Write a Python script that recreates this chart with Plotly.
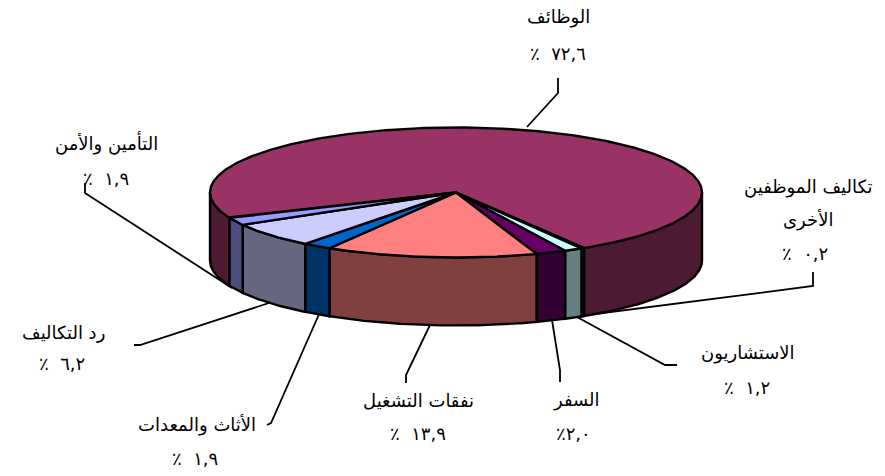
"""
رسم دائري ثلاثي الأبعاد لتوزيع المصروفات
"""
import numpy as np
import plotly.graph_objects as go

# البيانات
LABELS = ["الوظائف", "تكاليف الموظفين الأخرى", "الاستشاريون", "السفر",
          "نفقات التشغيل", "الأثاث والمعدات", "رد التكاليف", "التأمين والأمن"]
VALUES = [72.6, 0.2, 1.2, 2.0, 13.9, 1.9, 6.2, 1.9]
VALUE_TEXT = ["٪\u00a0\u00a0٧٢,٦", "٪\u00a0\u00a0٠,٢", "٪\u00a0\u00a0١,٢", "٪٢,٠",
              "٪\u00a0\u00a0١٣,٩", "٪\u00a0\u00a0١,٩", "٪\u00a0\u00a0٦,٢", "٪\u00a0\u00a0١,٩"]
TOP_COLORS = ["#993366", "#ffffcc", "#ccffff", "#660066", "#ff8080", "#0066cc", "#ccccff", "#9999ff"]
SIDE_COLORS = ["#4d1a33", "#808066", "#668080", "#330033", "#804040", "#003366", "#666680", "#4d4d80"]

# هندسة الرسم
CX, CY = 456, 192.5
RX, RY = 246, 65
DEPTH = 68
START_ANGLE = -67

# مواضع النصوص: (x, y, النص)
TEXT_POS = [
    (558, 17, LABELS[0]), (558, 53, VALUE_TEXT[0]),
    (808, 187, "تكاليف الموظفين"), (808, 220, "الأخرى"), (805, 253, VALUE_TEXT[1]),
    (748, 353, LABELS[2]), (747, 387, VALUE_TEXT[2]),
    (576, 400, LABELS[3]), (573, 433, VALUE_TEXT[3]),
    (418, 400, LABELS[4]), (418, 433, VALUE_TEXT[4]),
    (197, 425, LABELS[5]), (195, 458, VALUE_TEXT[5]),
    (63, 332, LABELS[6]), (62, 363, VALUE_TEXT[6]),
    (106, 143, LABELS[7]), (106, 178, VALUE_TEXT[7]),
]

# خطوط الربط بين النصوص والشرائح
LEADERS = [
    [(558, 78), (558, 93), (527, 127)],
    [(813, 272), (813, 286), (587, 315)],
    [(677, 365), (665, 365), (577, 317)],
    [(560, 382), (560, 370), (552, 320)],
    [(406, 383), (406, 375), (430, 325)],
    [(267, 425), (271, 423), (320, 312)],
    [(134, 345), (140, 345), (275, 301)],
    [(85, 183), (85, 193), (232, 288)],
]


def edge(phi):
    rad = np.radians(phi)
    return CX + RX * np.sin(rad), CY + RY * np.cos(rad)


def arc(a, b):
    n = max(int(abs(a - b)) * 2, 2)
    return edge(np.linspace(a, b, n))


fig = go.Figure()

for path in LEADERS:
    fig.add_trace(go.Scatter(
        x=[p[0] for p in path],
        y=[p[1] for p in path],
        mode='lines',
        line=dict(color='black', width=1.8),
        hoverinfo='skip'
    ))

# زوايا الشرائح
total = sum(VALUES)
bounds = START_ANGLE - np.cumsum([0] + VALUES) * 360 / total

# الجوانب: النصف الأمامي فقط ظاهر
for i, color in enumerate(SIDE_COLORS):
    hi, lo = bounds[i], bounds[i + 1]
    for k in (0, -360):
        a = min(hi, 90 + k)
        b = max(lo, -90 + k)
        if a <= b:
            continue
        x, y = arc(a, b)
        fig.add_trace(go.Scatter(
            x=np.concatenate([x, x[::-1], x[:1]]),
            y=np.concatenate([y, y[::-1] + DEPTH, y[:1]]),
            mode='lines',
            fill='toself',
            fillcolor=color,
            line=dict(color='black', width=2.4),
            hoverinfo='skip'
        ))

# السطح العلوي
for i, color in enumerate(TOP_COLORS):
    x, y = arc(bounds[i], bounds[i + 1])
    fig.add_trace(go.Scatter(
        x=np.concatenate([[CX], x, [CX]]),
        y=np.concatenate([[CY], y, [CY]]),
        mode='lines',
        fill='toself',
        fillcolor=color,
        line=dict(color='black', width=2.4),
        name=LABELS[i],
        hoverinfo='skip'
    ))

for tx, ty, text in TEXT_POS:
    fig.add_annotation(
        x=tx, y=ty, text=text, showarrow=False,
        font=dict(family='DejaVu Sans', size=18, color='black')
    )

fig.update_layout(
    width=885,
    height=476,
    margin=dict(l=0, r=0, t=0, b=0),
    paper_bgcolor='white',
    plot_bgcolor='white',
    showlegend=False
)
fig.update_xaxes(range=[0, 885], visible=False)
fig.update_yaxes(range=[476, 0], visible=False)

fig.write_html("out.html", config=dict(displayModeBar=False),
               post_script="document.body.style.margin='0';")
